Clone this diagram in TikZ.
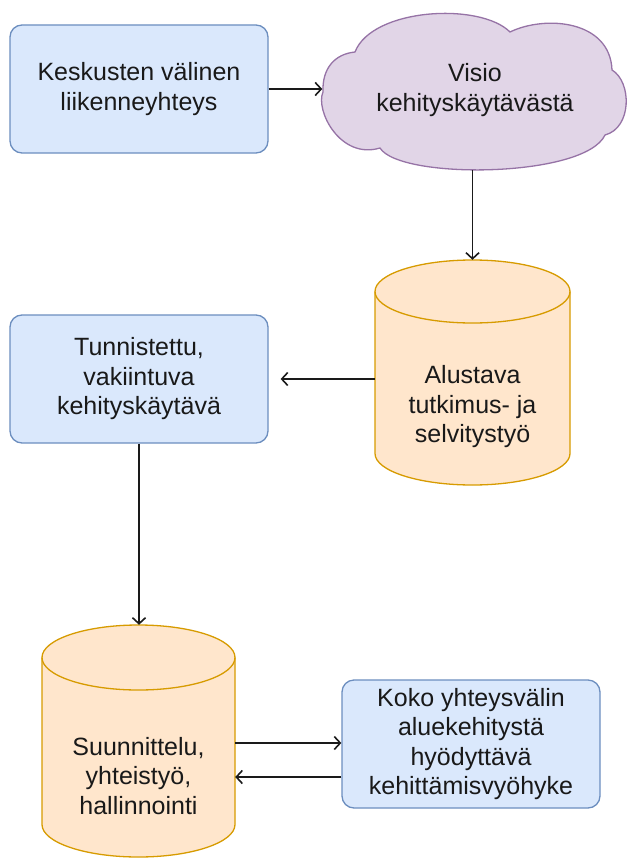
\documentclass[tikz,border=0pt]{standalone}
\usepackage{fontspec}
\setmainfont{Liberation Sans}
\usetikzlibrary{arrows.meta}
\definecolor{bluefill}{HTML}{DAE8FC}
\definecolor{blueline}{HTML}{6C8EBF}
\definecolor{orfill}{HTML}{FFE6CC}
\definecolor{orline}{HTML}{D79B00}
\definecolor{purfill}{HTML}{E1D5E7}
\definecolor{purline}{HTML}{9673A6}
\definecolor{arrowcol}{HTML}{1A1A1A}
\tikzset{
  every node/.style={font=\fontsize{25}{29.5}\selectfont, text=black!90, align=center, inner sep=0pt},
  bluebox/.style={draw=blueline, fill=bluefill, line width=1.3pt, rounded corners=12pt, minimum width=258pt, minimum height=128pt},
  holder/.style={draw=none, fill=none, rectangle},
  cylsty/.style={draw=orline, fill=orfill, line width=1.3pt},
  cloudsty/.style={draw=purline, fill=purfill, line width=1.3pt},
  arr/.style={draw=arrowcol, line width=1.5pt, -{Straight Barb[length=6pt,width=13pt,line width=1.6pt]}}
}
\begin{document}
\begin{tikzpicture}[x=1pt,y=-1pt]
\useasboundingbox (0,0) rectangle (629,859);

% cloud outline
\path[cloudsty] (323,92) .. controls (322,68) and (335,54) .. (355,52)
  .. controls (372,8) and (480,2) .. (510,32)
  .. controls (545,15) and (610,20) .. (612,70)
  .. controls (632,82) and (632,128) .. (605,135)
  .. controls (585,178) and (400,180) .. (380,148)
  .. controls (340,160) and (315,110) .. (323,92) -- cycle;

% cylinder 1
\path[cylsty] (375,291.5) -- (375,453.5)
  arc[start angle=180,end angle=360,x radius=97.5pt,y radius=31.5pt]
  -- (570,291.5)
  arc[start angle=0,end angle=180,x radius=97.5pt,y radius=31.5pt] -- cycle;
\draw[cylsty, fill=none] (375,291.5) arc[start angle=180,end angle=360,x radius=97.5pt,y radius=31.5pt];

% cylinder 2
\path[cylsty] (42,657.5) -- (42,824.5)
  arc[start angle=180,end angle=360,x radius=96.5pt,y radius=32.5pt]
  -- (235,657.5)
  arc[start angle=0,end angle=180,x radius=96.5pt,y radius=32.5pt] -- cycle;
\draw[cylsty, fill=none] (42,657.5) arc[start angle=180,end angle=360,x radius=96.5pt,y radius=32.5pt];

% nodes
\node[bluebox] (b1) at (139,89) {Keskusten välinen\\liikenneyhteys};
\node[holder, minimum width=305pt, minimum height=157pt] (cl) at (475,91.5) {};
\node (clt) at (475,90) {Visio\\kehityskäytävästä};
\node[holder, minimum width=195pt, minimum height=225pt] (c1) at (472.5,372.5) {};
\node (c1t) at (472.5,407) {Alustava\\tutkimus- ja\\selvitystyö};
\node[bluebox] (b2) at (139,379) {Tunnistettu,\\vakiintuva\\kehityskäytävä};
\node[holder, minimum width=193pt, minimum height=232pt] (c2) at (138.5,741) {};
\node (c2t) at (138.5,776) {Suunnittelu,\\yhteistyö,\\hallinnointi};
\node[bluebox] (b3) at (471,744) {Koko yhteysvälin\\aluekehitystä\\hyödyttävä\\kehittämisvyöhyke};

% connectors
\draw[arr] (b1.east) -- (b1.east -| cl.west);
\draw[arr] (c1.north |- cl.south) -- (c1.north);
\draw[arr, shorten >=12pt] (c1.west |- b2.east) -- (b2.east);
\draw[arr] (b2.south) -- (b2.south |- c2.north);
\draw[arr] ([yshift=1pt]c2.east |- b3.west) -- ([yshift=1pt]b3.west);
\draw[arr] ([yshift=-33pt]b3.west) -- ([yshift=-33pt]b3.west -| c2.east);
\end{tikzpicture}
\end{document}
